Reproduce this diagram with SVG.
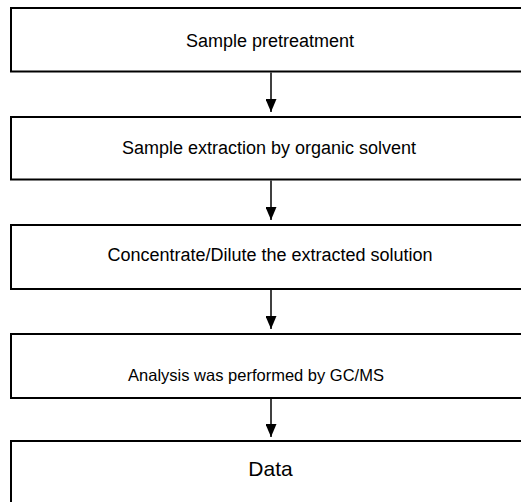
<svg xmlns="http://www.w3.org/2000/svg" width="521" height="502" viewBox="0 0 521 502">
<defs>
<style>
.box{fill:#fff;stroke:#000;stroke-width:2}
.lbl{font-family:"Liberation Sans",Arial,sans-serif;font-size:18px;fill:#000;text-anchor:middle}
.edge{stroke:#000;stroke-width:1.5;fill:none;marker-end:url(#ah)}
</style>
<marker id="ah" markerWidth="13" markerHeight="11" refX="13" refY="5.5" orient="auto" markerUnits="userSpaceOnUse" viewBox="0 0 13 11">
<path d="M0,0 L13,5.5 L0,11 Z" fill="#000"/>
</marker>
</defs>
<rect width="521" height="502" fill="#fff"/>
<g id="n1"><rect class="box" x="11" y="8" width="530" height="63.5"/><text class="lbl" x="270" y="46.5">Sample pretreatment</text></g>
<g id="n2"><rect class="box" x="11" y="117" width="530" height="62.5"/><text class="lbl" x="269" y="154">Sample extraction by organic solvent</text></g>
<g id="n3"><rect class="box" x="11" y="225" width="530" height="64"/><text class="lbl" x="270" y="260.5">Concentrate/Dilute the extracted solution</text></g>
<g id="n4"><rect class="box" x="11" y="334" width="530" height="64"/><text class="lbl" x="256" y="380.5" style="font-size:16.5px">Analysis was performed by GC/MS</text></g>
<g id="n5"><rect class="box" x="11" y="441" width="530" height="80"/><text class="lbl" x="270.5" y="476" style="font-size:21px">Data</text></g>
<g id="edges">
<line class="edge" x1="271" y1="72.5" x2="271" y2="112"/>
<line class="edge" x1="271" y1="180.5" x2="271" y2="220"/>
<line class="edge" x1="271" y1="290" x2="271" y2="329"/>
<line class="edge" x1="271" y1="399" x2="271" y2="437"/>
</g>
</svg>
